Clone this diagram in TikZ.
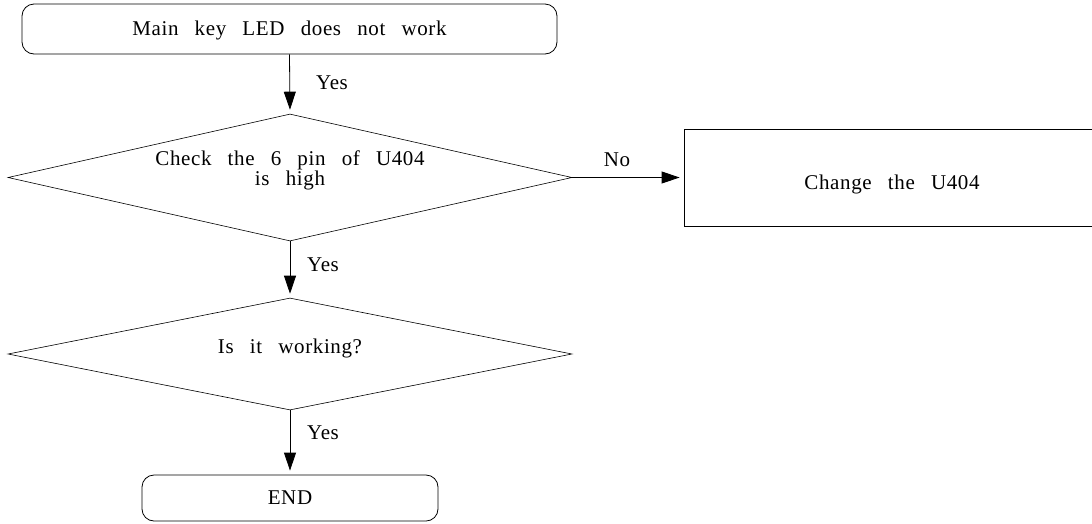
\documentclass[tikz,border=0pt]{standalone}
\usepackage{fontspec}
\setmainfont{Liberation Serif}[LetterSpace=3, WordSpace=2.75]
\usetikzlibrary{arrows.meta,shapes.geometric}
\begin{document}
\begin{tikzpicture}[x=1pt,y=-1pt,
  every node/.style={font=\fontsize{21}{20}\selectfont, inner sep=0pt},
  term/.style={draw, rounded corners=12pt, line width=0.8pt},
  dec/.style={draw, diamond, line width=0.6pt},
  proc/.style={draw, rectangle, line width=0.8pt},
  txt/.style={align=center, execute at begin node={\lineskiplimit=-20pt\relax}},
  arr/.style={draw, line width=0.8pt, shorten >=4pt, -{Triangle[length=18pt,width=12pt]}}
]
\useasboundingbox (0,0) rectangle (1092,523);
\node[term, minimum width=535pt, minimum height=50pt] (start) at (289.5,29) {};
\node[txt] (startt) at (289.5,30) {Main key LED does not work};
\node[dec, minimum width=564pt, minimum height=127pt] (d1) at (290,177.5) {};
\node[txt] (d1t) at (290,170) {Check the 6 pin of U404\\is high};
\node[proc, minimum width=416pt, minimum height=97pt] (chg) at (892,177.5) {};
\node[txt] (chgt) at (892,184) {Change the U404};
\node[dec, minimum width=564pt, minimum height=112pt] (d2) at (290,354) {};
\node[txt] (d2t) at (290,348) {Is it working?};
\node[term, minimum width=296pt, minimum height=46pt] (end) at (290,498) {END};
\draw[arr] (start.south) -- (d1.north);
\draw[arr] (d1.east) -- (chg.west);
\draw[arr] (d1.south) -- (d2.north);
\draw[arr] (d2.south) -- (end.north);
\node (y1) at (332,83) {Yes};
\node (no) at (617,160) {No};
\node (y2) at (323,265) {Yes};
\node (y3) at (323,433) {Yes};
\end{tikzpicture}
\end{document}
